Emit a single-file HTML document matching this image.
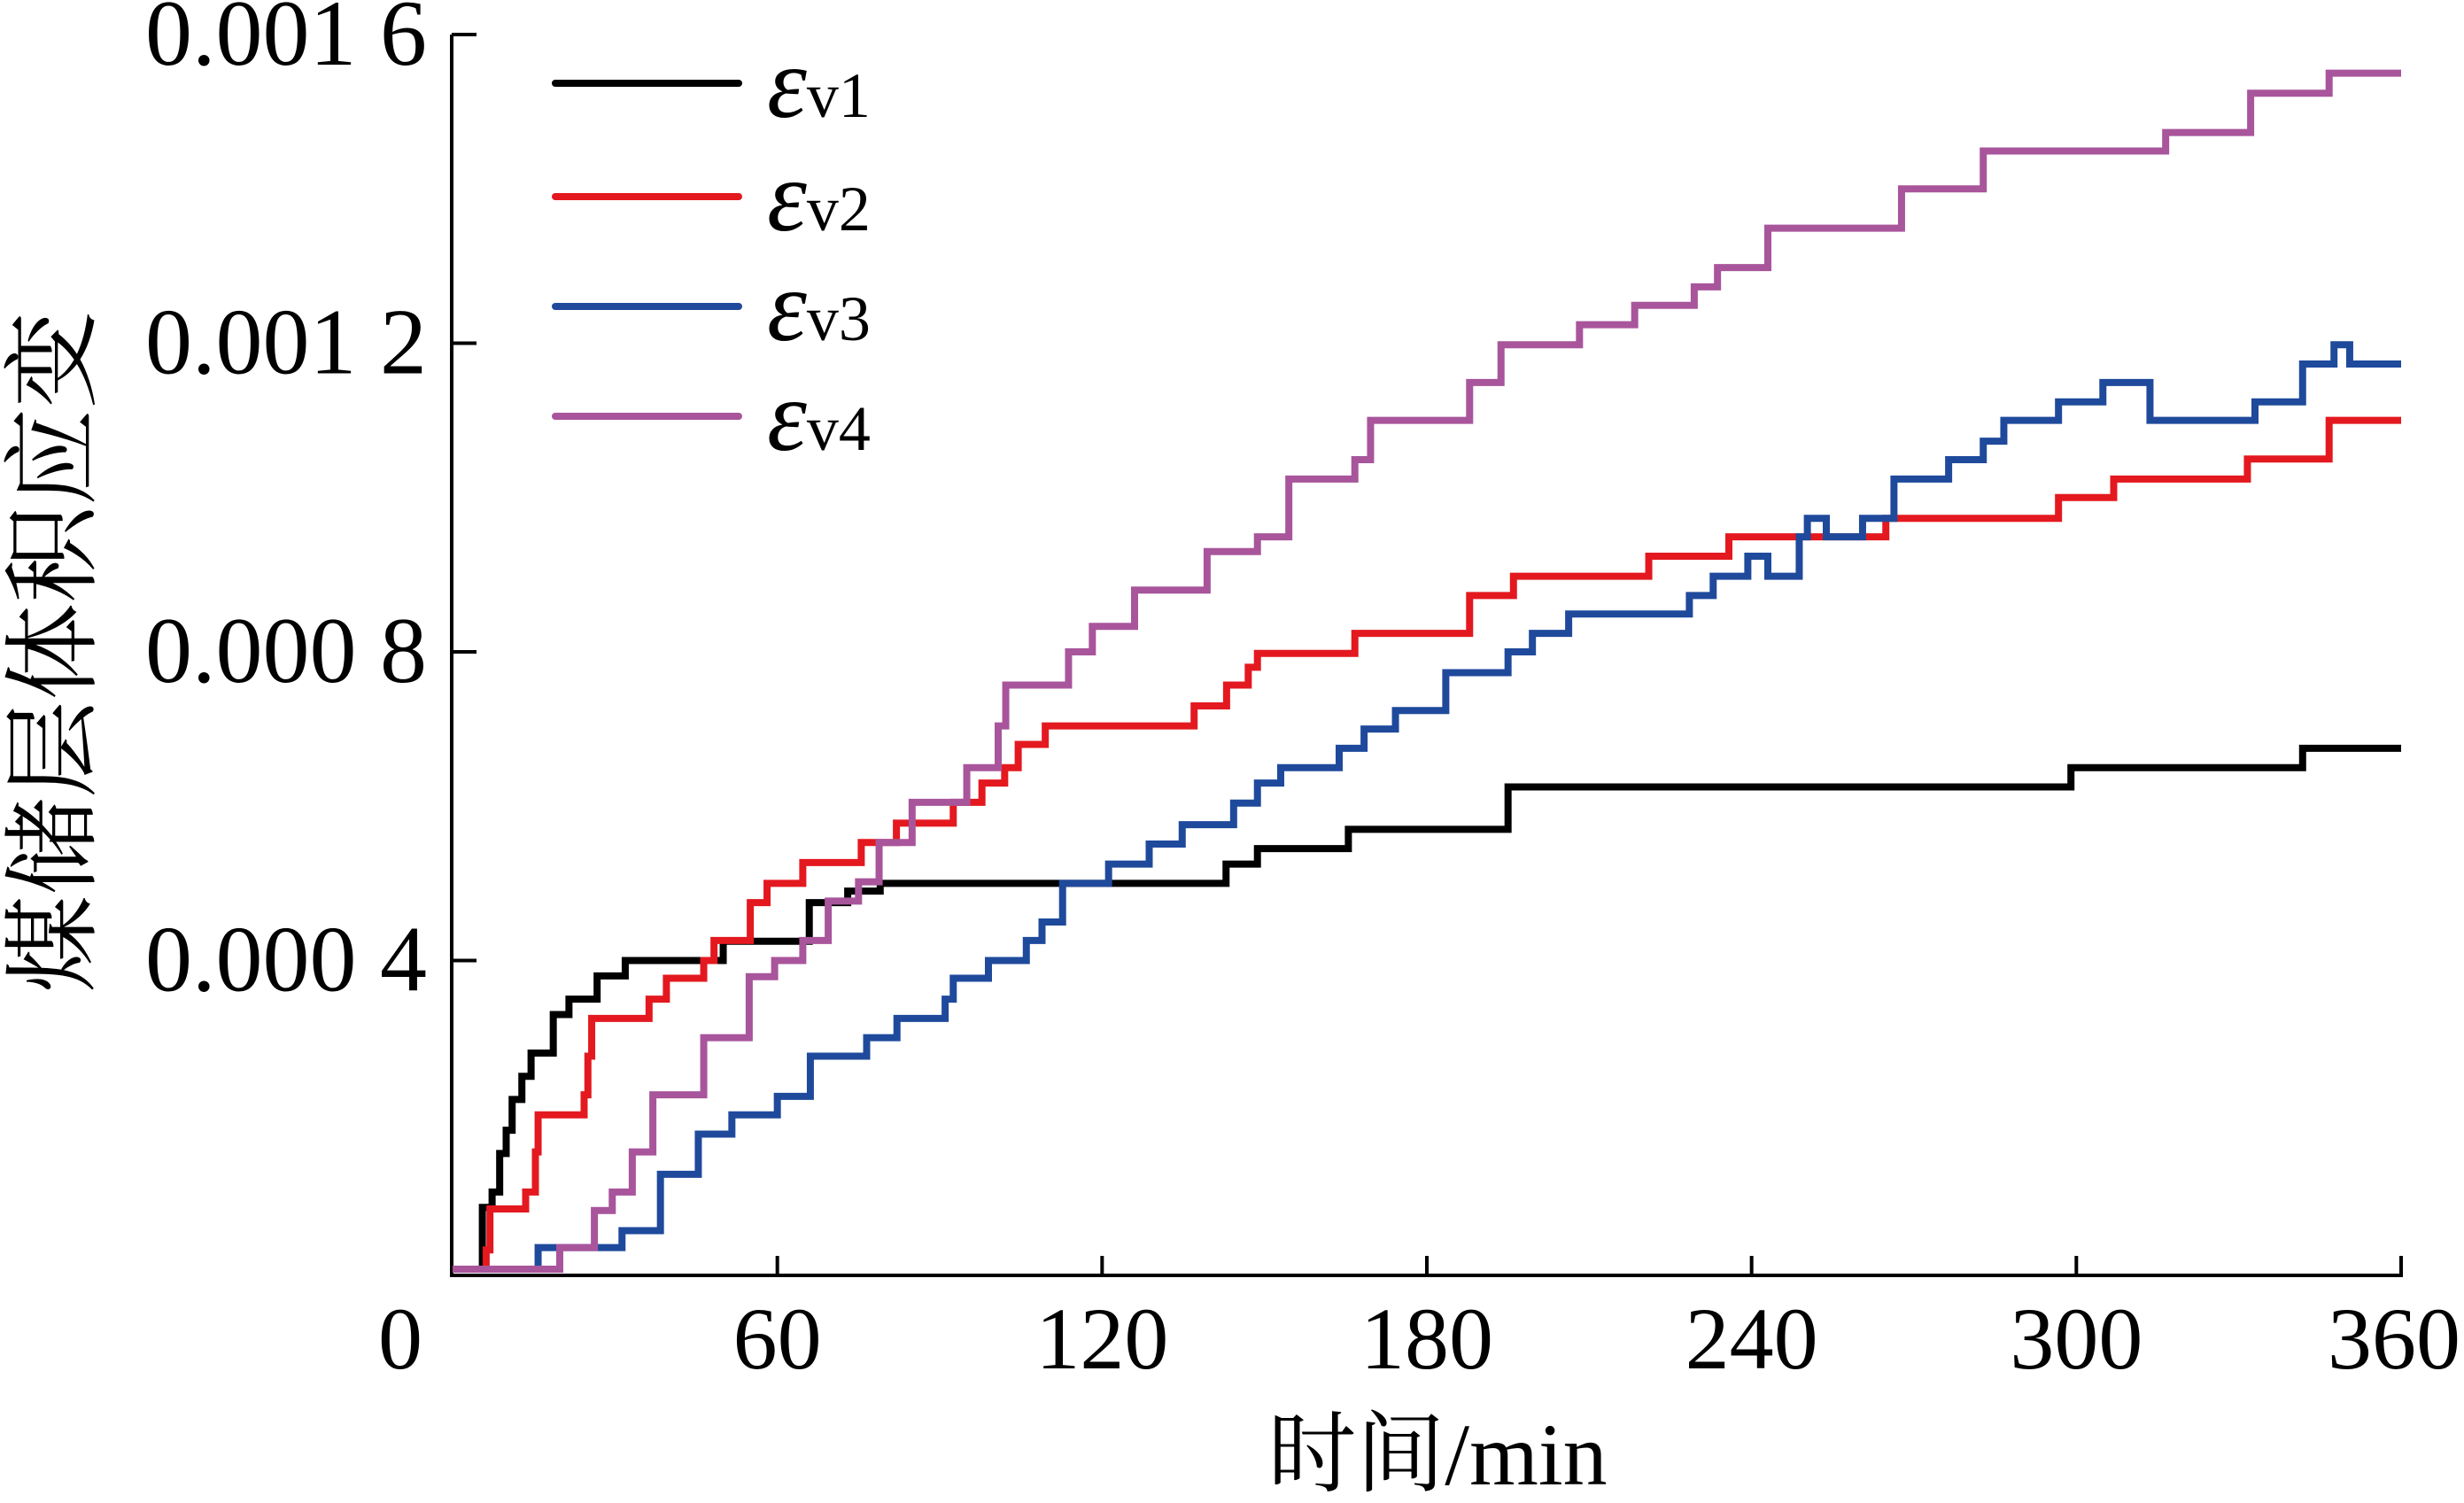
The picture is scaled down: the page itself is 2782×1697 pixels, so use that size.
<!DOCTYPE html>
<html><head><meta charset="utf-8"><style>
html,body{margin:0;padding:0;background:#fff;}
svg{display:block;}
text{font-family:"Liberation Serif","Noto Serif CJK SC",serif;fill:#000;}
</style></head><body>
<svg id="chart" width="2782" height="1697" viewBox="0 0 2782 1697" xmlns="http://www.w3.org/2000/svg">
<g id="axes"></g>
<g id="series"></g>
<g id="legend"></g>
<text x="1623" y="1676" font-size="100" text-anchor="middle" style="font-family:'Liberation Serif','Noto Serif CJK SC',serif">时间/min</text>
<text transform="translate(98,736) rotate(-90)" font-size="110" text-anchor="middle" style="font-family:'Liberation Serif','Noto Serif CJK SC',serif">煤储层体积应变</text>
</svg>
<script>
// data (values in units of 1e-4), step-after
const xTicks = [0,60,120,180,240,300,360];
const yTicks = [4,8,12,16];
const yTickLabels = ["0.000 4","0.000 8","0.001 2","0.001 6"];
const t1 = [0,5.5,7.3,8.7,9.9,11,12.8,14.5,18.6,21.5,26.7,31.9,50,65.9,73,79,142.9,148.7,165.5,195,299,341.8,360];
const v1 = [0,0.8,1.0,1.5,1.8,2.2,2.5,2.8,3.3,3.5,3.8,4.0,4.25,4.75,4.9,5.0,5.25,5.45,5.7,6.25,6.5,6.75,6.75];
const t2 = [0,6.2,6.9,13.5,15.3,15.8,24.3,25,25.7,36.3,39.5,46.4,48.3,55,58.1,64.7,75.5,82,92.5,97.8,102,104.5,109.5,137,143,147,148.7,166.7,187.9,196,221,235.8,264.8,296.7,306.9,331.6,346.7,360];
const v2 = [0,0.25,0.78,1.0,1.52,2.0,2.26,2.76,3.25,3.5,3.77,4.0,4.26,4.75,5.0,5.27,5.53,5.78,6.05,6.3,6.5,6.8,7.04,7.3,7.57,7.8,7.98,8.24,8.73,8.98,9.24,9.49,9.73,10.0,10.24,10.5,11.0,11.0];
const t3 = [0,15.8,31.3,38.4,45.4,51.6,60,66.1,76.5,82.1,91,92.5,99,106,108.9,112.7,121.2,128.7,134.8,144.3,148.7,153,163.8,168.4,174.2,183.5,195,199.5,206.2,228.5,232.9,239.3,243,248.8,250.3,253.8,260.5,266.3,276.4,282.8,286.6,296.7,304.9,313.6,333,341.8,347.6,350.5,360];
const v3 = [0,0.28,0.5,1.23,1.75,2.0,2.24,2.76,3.0,3.25,3.5,3.77,4.0,4.26,4.5,5.0,5.25,5.51,5.76,6.04,6.3,6.5,6.75,7.0,7.24,7.73,8.0,8.24,8.49,8.73,8.98,9.24,8.98,9.49,9.73,9.49,9.73,10.24,10.49,10.73,11.0,11.24,11.49,11.0,11.24,11.73,11.98,11.73,11.73];
const t4 = [0,19.8,26.2,29.5,33.2,37,46.4,54.8,59.5,64.7,69.4,75,78.8,84.9,95,100.8,102.2,113.8,118.2,126,139.4,148.7,154.5,166.7,169.6,187.9,193.7,208.2,218.4,229.4,233.7,243,267.7,282.8,316.5,332.2,346.7,360];
const v4 = [0,0.28,0.76,1.0,1.52,2.26,3.0,3.79,4.0,4.26,4.77,5.02,5.53,6.05,6.5,7.04,7.57,8.0,8.33,8.8,9.3,9.49,10.24,10.49,11.0,11.49,11.98,12.24,12.49,12.73,12.98,13.49,14.0,14.49,14.73,15.24,15.5,15.5];
const seriesColors = ["#000000","#e3191f","#1f4a9c","#a8559c"];
const seriesNames = ["ev1","ev2","ev3","ev4"];

const NS="http://www.w3.org/2000/svg";
const X0=511,X1=2711,Y0=1433,YTOP=39;
function xs(t){return X0+(t/360)*(X1-X0);}
function ys(v){return Y0-(v/16)*(Y0-YTOP);}
function mk(tag,attrs,parent){const e=document.createElementNS(NS,tag);for(const k in attrs)e.setAttribute(k,attrs[k]);parent.appendChild(e);return e;}

const axes=document.getElementById('axes');
let yl=mk('line',{x1:510,y1:ys(16),x2:510,y2:1441,stroke:'#000','stroke-width':4},axes);


let xl=mk('line',{x1:508,y1:1440,x2:X1+2,y2:1440,stroke:'#000','stroke-width':4},axes);


xTicks.forEach((t,i)=>{
  if(t>0){
    const tk=mk('line',{x1:xs(t),y1:1440,x2:xs(t),y2:1418,stroke:'#000','stroke-width':4},axes);
    
    
  }
  const lb=mk('text',{x:t===0?452:(t===360?xs(t)-8:xs(t)),y:1545,'font-size':100,'text-anchor':'middle'},axes);
  lb.textContent=String(t);
  
  
});
yTicks.forEach((v,i)=>{
  const tk=mk('line',{x1:510,y1:ys(v),x2:538,y2:ys(v),stroke:'#000','stroke-width':4},axes);
  
  
  const lb=mk('text',{x:482,y:ys(v)+34,'font-size':106,'text-anchor':'end'},axes);
  lb.textContent=yTickLabels[i];
  
  
});

const sg=document.getElementById('series');
[[t1,v1],[t2,v2],[t3,v3],[t4,v4]].forEach((s,k)=>{
  const T=s[0],V=s[1];
  let d='M'+xs(T[0])+','+ys(V[0]);
  for(let i=1;i<T.length;i++){d+=' H'+xs(T[i])+' V'+ys(V[i]);}
  const p=mk('path',{d:d,fill:'none',stroke:seriesColors[k],'stroke-width':8,'stroke-linejoin':'miter'},sg);
  
  
});

const lg=document.getElementById('legend');
const ly=[94,222,346,470];
ly.forEach((y,k)=>{
  const l=mk('line',{x1:627,y1:y,x2:834,y2:y,stroke:seriesColors[k],'stroke-width':8,'stroke-linecap':'round'},lg);
  
  
  const tx=mk('text',{x:866,y:y+38,'font-size':114},lg);
  
  
  const e=mk('tspan',{'font-style':'italic'},tx);e.textContent='ε';
  const sb=mk('tspan',{'font-size':72,dy:0},tx);sb.textContent='v'+(k+1);
});
</script>
</body></html>
